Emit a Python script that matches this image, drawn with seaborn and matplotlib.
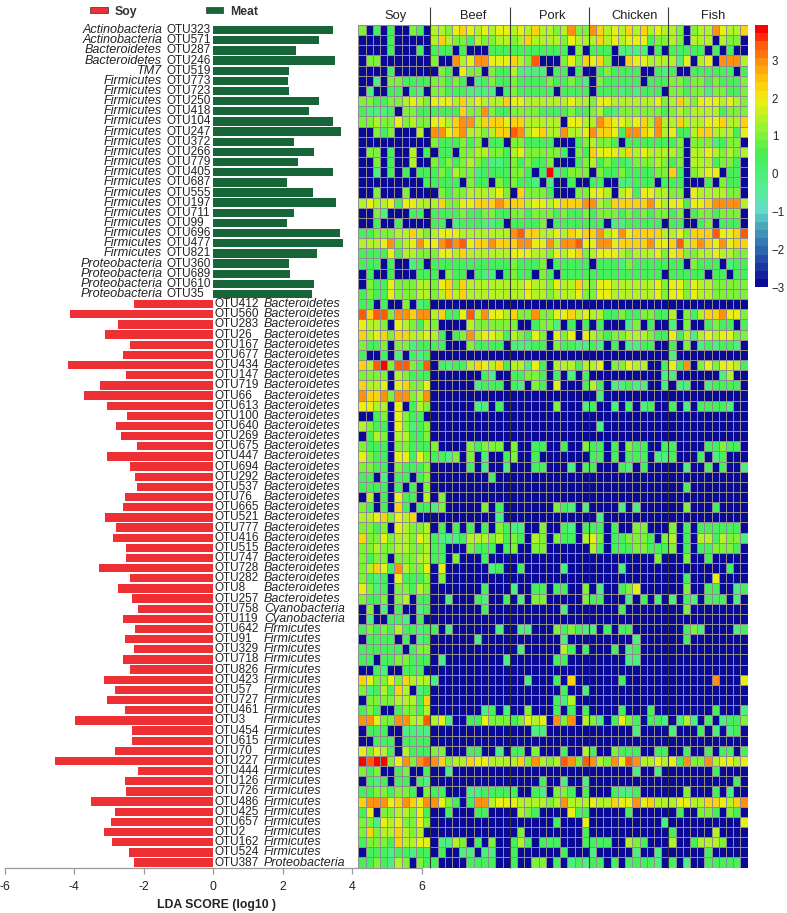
import numpy as np
import pandas as pd
import seaborn as sns
import matplotlib
matplotlib.use("Agg")
import matplotlib.pyplot as plt
from matplotlib.colors import LinearSegmentedColormap, ListedColormap
from matplotlib.patches import Rectangle

sns.set_theme(style="white")
plt.rcParams["font.family"] = ["Liberation Sans", "DejaVu Sans"]

W, H = 787, 913

meat_phylum = ["Actinobacteria"] * 2 + ["Bacteroidetes"] * 2 + ["TM7"] + ["Firmicutes"] * 18 + ["Proteobacteria"] * 4
meat_otu = ["OTU323", "OTU571", "OTU287", "OTU246", "OTU519", "OTU773", "OTU723", "OTU250", "OTU418", "OTU104",
            "OTU247", "OTU372", "OTU266", "OTU779", "OTU405", "OTU687", "OTU555", "OTU197", "OTU711", "OTU99",
            "OTU696", "OTU477", "OTU821", "OTU360", "OTU689", "OTU610", "OTU35"]
meat_lda = [3.44, 3.05, 2.39, 3.50, 2.18, 2.15, 2.18, 3.05, 2.77, 3.44, 3.69, 2.32, 2.89, 2.45, 3.44, 2.12, 2.86,
            3.53, 2.32, 2.12, 3.66, 3.74, 3.00, 2.18, 2.21, 2.89, 2.83]

soy_phylum = ["Bacteroidetes"] * 30 + ["Cyanobacteria"] * 2 + ["Firmicutes"] * 23 + ["Proteobacteria"]
soy_otu = ["OTU412", "OTU560", "OTU283", "OTU26", "OTU167", "OTU677", "OTU434", "OTU147", "OTU719", "OTU66",
           "OTU613", "OTU100", "OTU640", "OTU269", "OTU675", "OTU447", "OTU694", "OTU292", "OTU537", "OTU76",
           "OTU665", "OTU521", "OTU777", "OTU416", "OTU515", "OTU747", "OTU728", "OTU282", "OTU8", "OTU257",
           "OTU758", "OTU119", "OTU642", "OTU91", "OTU329", "OTU718", "OTU826", "OTU423", "OTU57", "OTU727",
           "OTU461", "OTU3", "OTU454", "OTU615", "OTU70", "OTU227", "OTU444", "OTU126", "OTU726", "OTU486",
           "OTU425", "OTU657", "OTU2", "OTU162", "OTU524", "OTU387"]
soy_lda = [-2.29, -4.13, -2.75, -3.10, -2.40, -2.60, -4.19, -2.50, -3.27, -3.73, -3.05, -2.47, -2.80, -2.65, -2.18,
           -3.07, -2.38, -2.24, -2.18, -2.55, -2.60, -3.10, -2.79, -2.87, -2.52, -2.50, -3.30, -2.38, -2.75, -2.35,
           -2.15, -2.60, -2.25, -2.55, -2.27, -2.60, -2.40, -3.13, -2.84, -3.05, -2.55, -3.99, -2.33, -2.33, -2.84,
           -4.56, -2.15, -2.55, -2.50, -3.53, -2.83, -2.95, -3.14, -2.92, -2.42, -2.29]

groups = ["Soy", "Beef", "Pork", "Chicken", "Fish"]
group_sizes = [10, 11, 11, 11, 11]

# Abundance level read per cell: '.' navy, 0 teal-green ... 8 red; '-' means a whole group of navy cells.
level_values = {".": -3.0, "0": -0.1, "1": 0.4, "2": 0.9, "3": 1.4, "4": 1.9, "5": 2.4, "6": 2.95, "7": 3.45, "8": 3.9}

meat_cells = [
    "2.1.1..21. 33245434344 34353323622 65343535343 32.23364335",
    "....1..... 35322132233 23533332433 35343444122 32.333.322.",
    "....1...1. 111.1...111 11111111.2. 111.0000.1. 11111.1.1..",
    ".22....... 2..63466444 5327...2425 452..544333 304.34.6663",
    "....1..... .21.422.211 30000.11.1. .121111..10 1..111111.1",
    "..0.221111 22121.01211 21111211210 .211111.111 22122121112",
    ".0..11.10. 221110000.1 211111.1111 .111010111. 22122022112",
    "2211223432 44435343335 44333333433 24433333342 35324443432",
    "10001.2211 11115226211 22221111211 23102222221 23233331222",
    "2232242322 44356635554 5533333.443 36544345363 35333445335",
    "..212...3. 66456332355 76345336334 65541665463 41135533314",
    ".......... 2111212.11. 221111...12 3221.111111 12.2220122.",
    ".22.1..3.1 .11.2233221 34222221.21 54443534333 32.33432323",
    "..2.1..3.. 21212321001 212112...12 31211022232 12.3331221.",
    "..0.1.1.11 12132201111 221.1801222 .2112111122 51.2344.11.",
    ".........1 1111.211.21 2110.0..1.. 11..00111.1 11...1.211.",
    "..2...2... .2122333342 .52221...22 443.3414433 22.4333322.",
    "3433414433 35224455565 55344345556 63255555643 44144566663",
    "..20...11. 11112112211 22122212112 12221212122 12.1221222.",
    "..1..1.... 11.0111001. 11112.11111 11.0011111. 11..12.111.",
    "1122233532 34443333333 67553343545 56346455553 34255574457",
    "3334623464 46767455655 56644636674 46645555644 57356546455",
    "1111413322 24435333333 44433243452 34443233342 45223343322",
    "111.1..01. 11111111111 21112.11111 .1110211111 11.2111.011",
    ".1..1...11 1.211.100.1 211.21.1111 1111111111. 11111.11.11",
    ".211422233 24525333333 33433243353 24433333342 44243322222",
    "1211422233 23535333333 33433233342 24433333342 44243322222",
]

soy_cells = [
    "11.1..2.01 - - - -",
    "7577266566 35114736443 52262244534 33112112211 3.213556442",
    "4332.43213 2....322222 2..1220.1.1 .1...02.1.. 0.2..1211.1",
    "5345255334 31.12634431 32142.424.4 32122333211 41303434422",
    "2112.22011 11...21111. 00011.21100 10.1.0011.. 1.2.010110.",
    "1..1.0.101 - - - 0..........",
    "5378277217 .1011354351 33041.33313 34.22433..1 416.2424431",
    "2222.32111 .......10.. 11221.1.0.1 ..........0 0......03..",
    "5334.45224 ......0111. 10.21.4...1 31.00100..0 .00..01111.",
    "6556266236 - - .0......... -",
    "4433.4.132 ......00.1. ......2...0 1..0.1.01.. 1.0.11110..",
    "..12.4211. - - - -",
    "3211.42012 - - .0......... -",
    ".132.33112 - - - -",
    "2111.22111 2....21222. 2..11..1..2 11.1.211..1 1....11211.",
    "4211.44142 1102.2.0..1 2..1....... 11.1.111.00 1...1.01...",
    "2211.21112 .....1.0..0 ...11...0.1 1...10.1... ..0..1.1..0",
    "11.0.11.12 ........1.. - - -",
    "1111.1.1.2 - - - ..1........",
    ".3.1.411.3 .2......... - - -",
    "21.1.51.11 02.....2.1. ......210.0 ....0.0.... ..2...1....",
    "33452435.. .........0. - .0......... -",
    "2212.43223 .1.1.1.1.21 00..2..10.1 11.1..22... 2.1.111111.",
    "5224233243 10001333231 21.32.211.3 42.112221.2 3.1.3313220",
    "2232233223 11...2111.1 2..22...... 31.11122111 2.1.112221.",
    "2122.22233 11.2...1... - .........2. ..2..1.....",
    "2354163224 .4......01. .1.....0... ....0...... ........1..",
    "2101.41112 .2......... - - ..1...4....",
    "4201.22132 .......1... 0..11.11..2 .0..124.... ..2..11..01",
    "2112.23.11 ..0...10..1 .0.22.....2 11...0.1.0. 0.10.111.0.",
    ".2.0.1..01 .......1... .......0... ....1...... ..2........",
    ".0..110.1. - - - -",
    "1212131101 1.0......0. .00...21210 0.1.11..... ..120....01",
    ".1111.1.01 ......0.... .......0... ......0.... ..1........",
    "111111.122 - .0.....31.1 ...1.01.... -",
    "11.1122111 .0........0 ......11... .....00.... -",
    "..10..111. - - - -",
    "5422425333 0.......... ..0...1.5.. ....1...... ......6...4",
    "2013153.01 - .......1..0 - -",
    ".222233315 - ......103.. - -",
    "121..12213 .......01.0 ..2...1.1.1 ....1...1.. ......1...0",
    "6642266337 340..114222 12434.626.3 20.1421.110 .030.1.0112",
    ".111..0000 - ...00...... ......0.... 0...1.0.01.",
    "..111.1111 - - - -",
    "42431.3111 22...11..0. 11.2...1..3 1..2111..11 ..1..1.11.1",
    "8788246267 65233544333 35263237627 63264763343 41622634434",
    "212..12..1 ..0........ - ......0..0. ......1....",
    ".101.11.10 - ....1..0..0 - .........1.",
    "11221221.2 11...001111 1..10.221.1 ...1001.... ..2...1.0..",
    "5666456546 6421.166344 43333236333 43354464533 34433554356",
    "14.2233241 ..1...11... .321....411 .....1..... .1..221.21.",
    "2204342242 - ......1...4 ..........0 ..........4",
    "252335323. - .2........1 - 1.....3....",
    "1222153344 .0032.1.2.. 131.111...1 111..321... 3..13332...",
    ".111011011 .1..00.00.. 1......1... 0.....0..0. .....1.....",
    "1121032.21 1....1111.. 1..22.1.010 11.1.11110. 1.0..11111.",
]

bar_red, bar_green = "#ee3035", "#17663a"
cell_edge = "#8e8e8e"


def expand(row):
    parts = row.split()
    out = []
    for part, n in zip(parts, group_sizes):
        cell = "." * n if part == "-" else part
        assert len(cell) == n, (row, part)
        out.extend(level_values[c] for c in cell)
    assert len(parts) == 5, row
    return out


otus = meat_otu + soy_otu
matrix = pd.DataFrame([expand(r) for r in meat_cells + soy_cells], index=otus)
bars = pd.DataFrame({
    "otu": otus,
    "lda": meat_lda + soy_lda,
    "group": ["Meat"] * len(meat_otu) + ["Soy"] * len(soy_otu),
})

anchors = [(-3.0, "#0a0a96"), (-2.5, "#1c3ea6"), (-2.0, "#2f6fb0"), (-1.5, "#4aa0bb"), (-1.0, "#62dcc8"),
           (-0.5, "#58ec9c"), (0.0, "#4cf07a"), (0.5, "#44ee50"), (1.0, "#7cf23a"), (1.5, "#b4f228"),
           (2.0, "#f0f010"), (2.5, "#ffc810"), (3.0, "#ff9410"), (3.5, "#ff5a0a"), (3.93, "#ff0000")]
vmin, vmax = -3.0, 3.93
smooth = LinearSegmentedColormap.from_list(
    "lda", [((v - vmin) / (vmax - vmin), c) for v, c in anchors])
cmap = ListedColormap(smooth(np.linspace(0, 1, 32)))


def box(x0, y0, x1, y1):
    return [x0 / W, 1 - y1 / H, (x1 - x0) / W, (y1 - y0) / H]


fig = plt.figure(figsize=(W / 100, H / 100), dpi=100, facecolor="white")

# bars
ax = fig.add_axes(box(4.7, 25, 421.7, 867.6))
ax.patch.set_alpha(0)
sns.barplot(data=bars, y="otu", x="lda", hue="group", dodge=False, width=0.82, legend=False, saturation=1,
            palette={"Meat": bar_green, "Soy": bar_red}, linewidth=0, ax=ax)
ax.set_xlim(-6, 6)
ax.set_ylim(len(otus) - 0.5, -0.5)
ax.set_xlabel("")
ax.set_ylabel("")
ax.set_yticks([])
ax.set_xticks([-6, -4, -2, 0, 2, 4, 6])
ax.set_xticklabels(["-6", "-4", "-2", "0", "2", "4", "6"])
ax.tick_params(axis="x", bottom=True, length=4, width=0.9, color="#9a9a9a", labelsize=8.8,
               labelcolor="#222222", pad=6)
for side in ("left", "right", "top"):
    ax.spines[side].set_visible(False)
ax.spines["bottom"].set_color("#9a9a9a")
ax.spines["bottom"].set_linewidth(0.9)

for i, (otu, ph) in enumerate(zip(meat_otu, meat_phylum)):
    ax.text(-1.342, i, otu, ha="left", va="center", fontsize=8.5, color="#222222")
    ax.text(-1.47, i, ph, ha="right", va="center", fontsize=9.1, style="italic", color="#222222")
offset = len(meat_otu)
for i, (otu, ph) in enumerate(zip(soy_otu, soy_phylum)):
    ax.text(0.05, i + offset, otu, ha="left", va="center", fontsize=8.5, color="#222222")
    ax.text(1.46, i + offset, ph, ha="left", va="center", fontsize=9.0, style="italic", color="#222222")

# heatmap and colour bar
hax = fig.add_axes(box(358.3, 25, 747.7, 867.6))
cax = fig.add_axes(box(755, 25, 767.7, 287.3))
sns.heatmap(matrix, ax=hax, cmap=cmap, vmin=vmin, vmax=vmax, linewidths=0.7, linecolor=cell_edge,
            xticklabels=False, yticklabels=False, cbar_ax=cax, cbar_kws={"ticks": [-3, -2, -1, 0, 1, 2, 3]})
hax.set_xlabel("")
hax.set_ylabel("")
cax.set_yticklabels(["\u22123", "\u22122", "\u22121", "0", "1", "2", "3"])
cax.tick_params(axis="y", length=0, labelsize=8.3, pad=3, labelcolor="#222222")
hax.collections[0].colorbar.outline.set_visible(False)

edges = np.cumsum(group_sizes)
hax.vlines(edges[:-1], -1.77, len(otus), colors="#3c3c3c", linewidth=0.8, clip_on=False)
group_x = [396, 473, 552, 635, 713]
for name, gx in zip(groups, group_x):
    fig.text(gx / W, 1 - 16 / H, name, ha="center", va="center", fontsize=9.3, color="#222222")

# legend and axis title
for (x0, x1, colour, label, tx) in [(90, 108, bar_red, "Soy", 115), (205.5, 223.5, bar_green, "Meat", 230)]:
    fig.add_artist(Rectangle((x0 / W, 1 - 13.5 / H), (x1 - x0) / W, 6.5 / H, transform=fig.transFigure,
                             facecolor=colour, edgecolor="#555555", linewidth=0.7))
    fig.text(tx / W, 1 - 12 / H, label, ha="left", va="center", fontsize=8.8, fontweight="bold",
             color="#333333")
fig.text(216 / W, 1 - 905 / H, "LDA SCORE (log10 )", ha="center", va="center", fontsize=8.8,
         fontweight="bold", color="#222222")

fig.savefig("out.png", dpi=100, facecolor="white")
